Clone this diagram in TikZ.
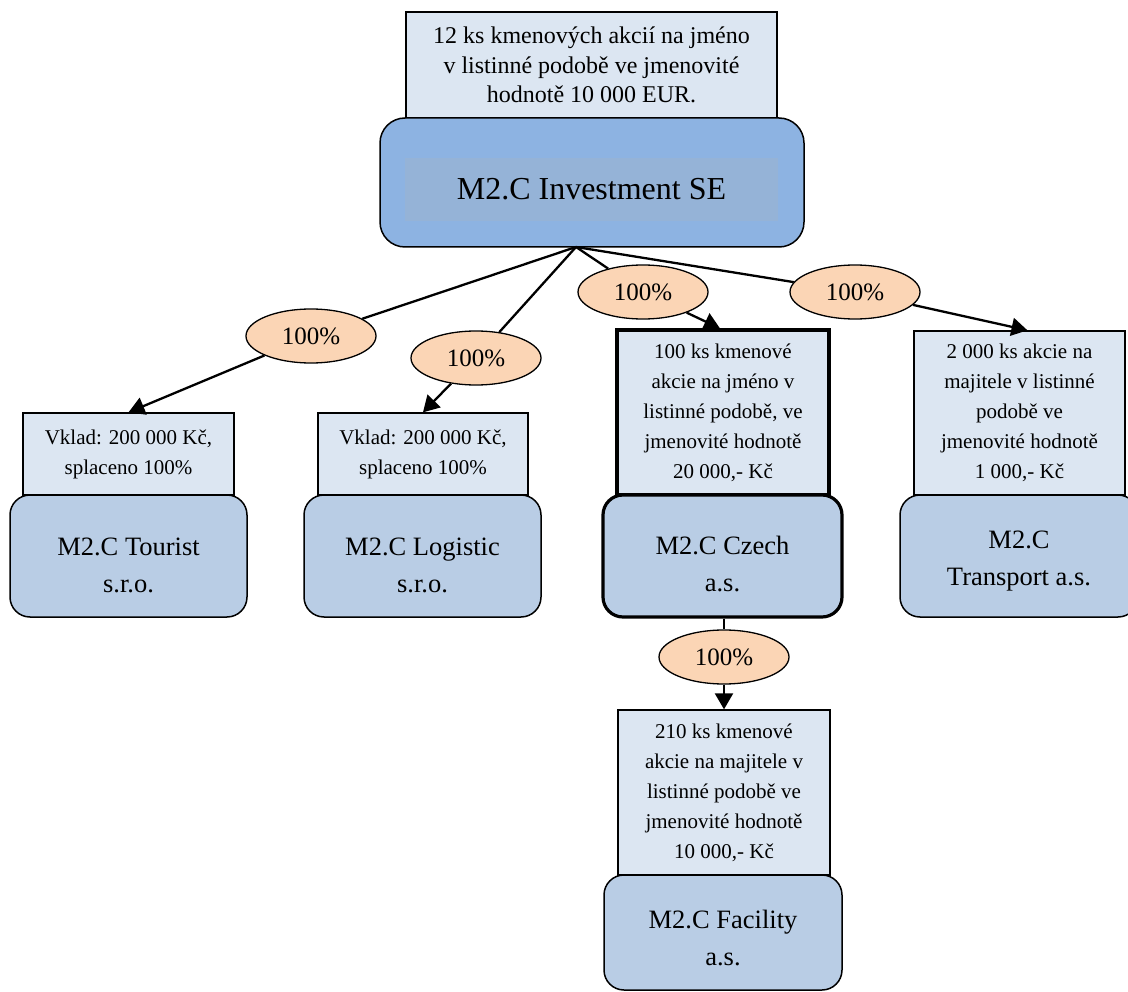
\documentclass[tikz,border=0pt]{standalone}
\usepackage{fontspec}
\setmainfont{Liberation Serif}
\usetikzlibrary{shapes.geometric,arrows.meta}
\definecolor{notefill}{HTML}{DCE6F2}
\definecolor{boxfill}{HTML}{B9CDE5}
\definecolor{mainfill}{HTML}{8DB3E2}
\definecolor{innerfill}{HTML}{95B3D7}
\definecolor{pctfill}{HTML}{FBD5B5}
\begin{document}
\begin{tikzpicture}[x=1pt,y=-1pt,
  note/.style={draw=black, line width=1.3pt, fill=notefill, rectangle, inner sep=0pt, align=center, font=\fontsize{21}{30}\selectfont},
  company/.style={draw=black, line width=1.5pt, fill=boxfill, rounded corners=20pt, rectangle, inner sep=0pt},
  ctext/.style={align=center, font=\fontsize{26.5}{37}\selectfont, yshift=-8pt, inner sep=0pt},
  thick box/.style={line width=3.2pt},
  pct/.style={ellipse, draw=black, line width=1.3pt, fill=pctfill, minimum width=130pt, minimum height=54pt, inner sep=0pt, font=\fontsize{25}{30}\selectfont},
  link/.style={draw=black, line width=2.3pt},
  arr/.style={link, -{Triangle[length=16pt,width=18pt]}}]
\useasboundingbox (0,0) rectangle (1128,992);

% top company
\node[note, minimum width=371pt, minimum height=106pt, font=\fontsize{24}{29.5}\selectfont] (topnote) at (591.5,65)
  {12 ks kmenových akcií na jméno\\v listinné podobě ve jmenovité\\hodnotě 10 000 EUR.};
\node[company, rounded corners=25pt, fill=mainfill, minimum width=424pt, minimum height=129pt] (main) at (592,182.5) {};
\node[fill=innerfill, minimum width=373pt, minimum height=63pt, inner sep=0pt] (inner) at (591.5,189.5) {};
\node[font=\fontsize{32}{36}\selectfont] (maintext) at (591.5,189) {M2.C Investment SE};
\coordinate (j) at (576,247);

% subsidiaries
\node[note, minimum width=211pt, minimum height=82pt] (tnote) at (128.5,454) {Vklad: 200 000 Kč,\\splaceno 100\%};
\node[company, minimum width=237pt, minimum height=122pt,
  label={[ctext, yshift=-1pt]center:M2.C Tourist\\s.r.o.}] (tbox) at (128.5,556) {};

\node[note, minimum width=210pt, minimum height=82pt] (lnote) at (423,454) {Vklad: 200 000 Kč,\\splaceno 100\%};
\node[company, minimum width=237pt, minimum height=122pt,
  label={[ctext, yshift=-1pt]center:M2.C Logistic\\s.r.o.}] (lbox) at (422.5,556) {};

\node[note, thick box, minimum width=212pt, minimum height=165pt] (cnote) at (723,412.5)
  {100 ks kmenové\\akcie na jméno v\\listinné podobě, ve\\jmenovité hodnotě\\20 000,- Kč};
\node[company, thick box, minimum width=239pt, minimum height=122pt,
  label={[ctext]center:M2.C Czech\\a.s.}] (cbox) at (722.5,556) {};

\node[note, minimum width=211pt, minimum height=164pt] (trnote) at (1019.5,413)
  {2 000 ks akcie na\\majitele v listinné\\podobě ve\\jmenovité hodnotě\\1 000,- Kč};
\node[company, minimum width=238pt, minimum height=122pt,
  label={[ctext, yshift=3pt]center:M2.C\\Transport a.s.}] (trbox) at (1019,556) {};

\node[note, minimum width=212pt, minimum height=165pt] (fnote) at (724,792.5)
  {210 ks kmenové\\akcie na majitele v\\listinné podobě ve\\jmenovité hodnotě\\10 000,- Kč};
\node[company, minimum width=238pt, minimum height=115pt,
  label={[ctext, yshift=3pt]center:M2.C Facility\\a.s.}] (fbox) at (723,932.5) {};

% percentages
\node[pct] (p1) at (311,336) {100\%};
\node[pct] (p2) at (476,358) {100\%};
\node[pct] (p3) at (643,292) {100\%};
\node[pct] (p4) at (855,292) {100\%};
\node[pct] (p5) at (724,657) {100\%};

% connectors
\draw[link] (j) -- (p1);
\draw[arr] (p1) -- (tnote.north);
\draw[link] (j) -- (p2);
\draw[arr] (p2) -- (lnote.north);
\draw[link] (j) -- (p3);
\draw[arr] (p3) -- ([xshift=-3pt]cnote.north);
\draw[link] (j) -- (p4);
\draw[arr] (p4) -- ([xshift=8pt]trnote.north);
\draw[link] (p5 |- cbox.south) -- (p5);
\draw[arr] (p5) -- (fnote.north);
\end{tikzpicture}
\end{document}
